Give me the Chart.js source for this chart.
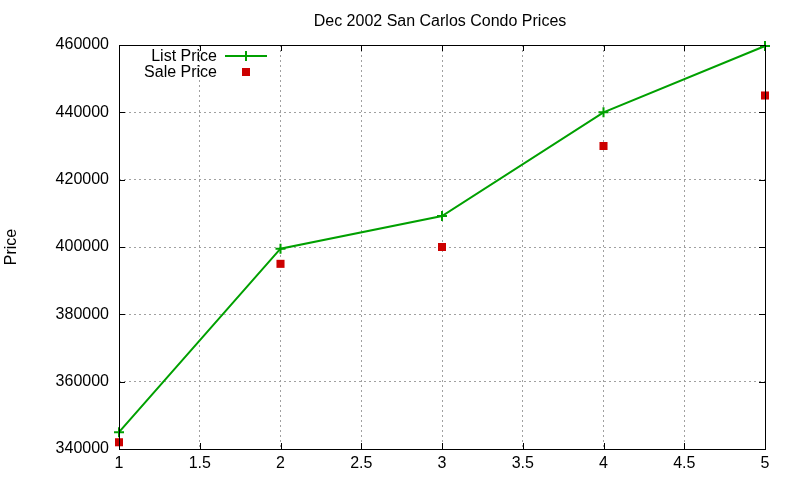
<!DOCTYPE html>
<html>
<head>
<meta charset="utf-8">
<style>
  html, body { margin: 0; padding: 0; background: #fff; }
  #wrap { width: 800px; height: 480px; }
</style>
</head>
<body>
<div id="wrap"><canvas id="priceChart"></canvas></div>

<script src="https://cdn.jsdelivr.net/npm/chart.js"></script>
<script>
// data
const unitIndex = [1, 2, 3, 4, 5];
const listPrice = [345000, 399500, 409200, 440000, 459700];
const salePrice = [342000, 395000, 400000, 430000, 445000];
const yTicks = [340000, 360000, 380000, 400000, 420000, 440000, 460000];
const xTicks = [1, 1.5, 2, 2.5, 3, 3.5, 4, 4.5, 5];

const FONT = "'Liberation Sans', Arial, sans-serif";
const GREEN = "#00a000";
const RED = "#cc0000";

// gnuplot-like frame: border box, inward ticks, title, key
const gnuplotFrame = {
    id: "gnuplotFrame",
    afterDatasetsDraw(chart) {
        const { ctx, chartArea: a, scales } = chart;
        ctx.save();
        ctx.strokeStyle = "#000";
        ctx.lineWidth = 1;
        ctx.beginPath();
        yTicks.forEach(v => {
            const y = Math.round(scales.y.getPixelForValue(v)) + 0.5;
            ctx.moveTo(a.left, y); ctx.lineTo(a.left + 6, y);
            ctx.moveTo(a.right, y); ctx.lineTo(a.right - 6, y);
        });
        xTicks.forEach(v => {
            const x = Math.round(scales.x.getPixelForValue(v)) + 0.5;
            ctx.moveTo(x, a.bottom); ctx.lineTo(x, a.bottom - 6);
            ctx.moveTo(x, a.top); ctx.lineTo(x, a.top + 6);
        });
        ctx.stroke();
        ctx.strokeRect(Math.round(a.left) + 0.5, Math.round(a.top) + 0.5,
                       Math.round(a.right - a.left), Math.round(a.bottom - a.top));

        // title
        ctx.fillStyle = "#000";
        ctx.font = "16px " + FONT;
        ctx.textAlign = "center";
        ctx.textBaseline = "middle";
        ctx.fillText("Dec 2002 San Carlos Condo Prices", 440, 21.5);

        // key
        const ds = chart.data.datasets;
        ctx.textAlign = "right";
        ctx.fillText(ds[0].label, 217, 56.5);
        ctx.fillText(ds[1].label, 217, 72.5);
        ctx.strokeStyle = GREEN;
        ctx.lineWidth = 2;
        ctx.beginPath();
        ctx.moveTo(225, 56); ctx.lineTo(267, 56);
        ctx.moveTo(246, 51); ctx.lineTo(246, 61);
        ctx.stroke();
        ctx.fillStyle = RED;
        ctx.fillRect(242, 68, 8, 8);
        ctx.restore();
    }
};

new Chart(document.getElementById("priceChart"), {
    type: "scatter",
    data: {
        datasets: [
            {
                label: "List Price",
                data: unitIndex.map((x, i) => ({ x: x, y: listPrice[i] })),
                showLine: true,
                borderColor: GREEN,
                backgroundColor: GREEN,
                borderWidth: 2,
                pointStyle: "cross",
                pointRadius: 5,
                pointBorderWidth: 2,
                pointBorderColor: GREEN,
                clip: false
            },
            {
                label: "Sale Price",
                data: unitIndex.map((x, i) => ({ x: x, y: salePrice[i] })),
                showLine: false,
                backgroundColor: RED,
                borderColor: RED,
                pointStyle: "rect",
                pointRadius: 5.7,
                pointBorderWidth: 0,
                clip: false
            }
        ]
    },
    options: {
        responsive: true,
        maintainAspectRatio: false,
        animation: false,
        events: [],
        layout: { padding: { top: 45, right: 35, left: 0, bottom: 0 } },
        plugins: {
            legend: { display: false },
            title: { display: false },
            tooltip: { enabled: false }
        },
        scales: {
            x: {
                type: "linear",
                min: 1,
                max: 5,
                afterBuildTicks: s => { s.ticks = xTicks.map(v => ({ value: v })); },
                afterFit: s => { s.height = 31; },
                ticks: {
                    color: "#000",
                    font: { family: FONT, size: 16 },
                    padding: 5,
                    maxRotation: 0,
                    callback: v => String(v)
                },
                grid: {
                    color: "#a0a0a0",
                    lineWidth: 1,
                    drawTicks: false
                },
                border: { display: false, dash: [2, 3] }
            },
            y: {
                type: "linear",
                min: 340000,
                max: 460000,
                afterBuildTicks: s => { s.ticks = yTicks.map(v => ({ value: v })); },
                afterFit: s => { s.width = 119; },
                title: {
                    display: true,
                    text: "Price",
                    color: "#000",
                    font: { family: FONT, size: 16 },
                    padding: { top: 2, bottom: 0 }
                },
                ticks: {
                    color: "#000",
                    font: { family: FONT, size: 16 },
                    padding: 10,
                    callback: v => String(v)
                },
                grid: {
                    color: "#a0a0a0",
                    lineWidth: 1,
                    drawTicks: false
                },
                border: { display: false, dash: [2, 3] }
            }
        }
    },
    plugins: [gnuplotFrame]
});
</script>
</body>
</html>
